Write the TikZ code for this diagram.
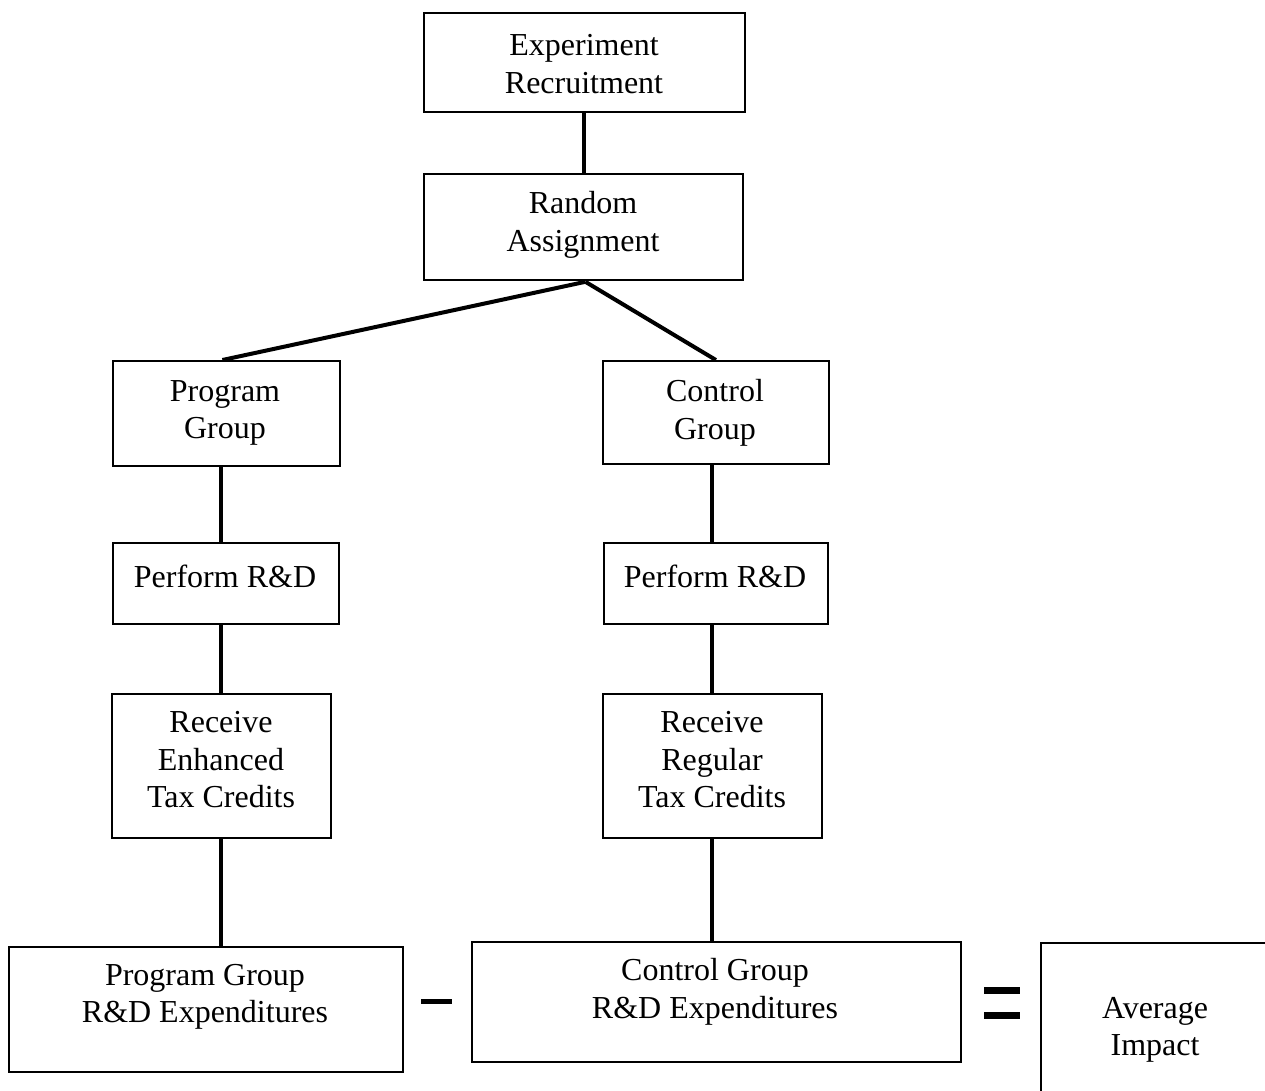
\documentclass[tikz,border=0pt]{standalone}
\usepackage{fontspec}
\setmainfont{Liberation Serif}
\usetikzlibrary{calc}
\tikzset{
  box/.style={draw, line width=1.8pt, inner sep=0pt, anchor=north west},
  txt/.style={align=center, inner sep=0pt, yshift=-3pt, font=\fontsize{32}{37.5}\selectfont},
  conn/.style={line width=4pt},
  bar/.style={fill=black, draw=none}
}
\begin{document}
\begin{tikzpicture}[x=1pt,y=-1pt]
\useasboundingbox (0,0) rectangle (1265,1091);
\clip (0,0) rectangle (1265,1091);
% boxes
\node[box, minimum width=321, minimum height=99] (exp) at (423,12) {};
\node[box, minimum width=319, minimum height=106] (ra) at (423,173) {};
\node[box, minimum width=227, minimum height=105] (pg) at (112,360) {};
\node[box, minimum width=226, minimum height=103] (cg) at (602,360) {};
\node[box, minimum width=226, minimum height=81] (pr1) at (112,542) {};
\node[box, minimum width=224, minimum height=81] (pr2) at (603,542) {};
\node[box, minimum width=219, minimum height=144] (rec1) at (111,693) {};
\node[box, minimum width=219, minimum height=144] (rec2) at (602,693) {};
\node[box, minimum width=394, minimum height=125] (pge) at (8,946) {};
\node[box, minimum width=489, minimum height=120] (cge) at (471,941) {};
\node[box, minimum width=300, minimum height=200] (avg) at (1040,942) {};
% texts
\node[txt] (texp) at (584,61) {Experiment\\Recruitment};
\node[txt] (tra) at (583,222) {Random\\Assignment};
\node[txt] (tpg) at (225,410) {Program\\Group};
\node[txt] (tcg) at (715,410) {Control\\Group};
\node[txt] (tpr1) at (225,573) {Perform R\&D};
\node[txt] (tpr2) at (715,573) {Perform R\&D};
\node[txt] (trec1) at (221,757) {Receive\\Enhanced\\Tax Credits};
\node[txt] (trec2) at (712,757) {Receive\\Regular\\Tax Credits};
\node[txt] (tpge) at (205,994) {Program Group\\R\&D Expenditures};
\node[txt] (tcge) at (715,989) {Control Group\\R\&D Expenditures};
\node[txt] (tavg) at (1155,1027) {Average\\Impact};
% connectors
\draw[conn] (exp.south) -- (exp.south |- ra.north);
\coordinate (split) at ($(ra.south)+(2,1)$);
\draw[conn] (split) -- ($(pg.north)+(-4,0)$);
\draw[conn] (split) -- (cg.north);
\draw[conn] (rec1.north |- pg.south) -- (rec1.north |- pr1.north);
\draw[conn] (rec1.north |- pr1.south) -- (rec1.north);
\draw[conn] (rec1.south) -- (rec1.south |- pge.north);
\draw[conn] (rec2.north |- cg.south) -- (rec2.north |- pr2.north);
\draw[conn] (rec2.north |- pr2.south) -- (rec2.north);
\draw[conn] (rec2.south) -- (rec2.south |- cge.north);
% operators
\fill[bar] (421,998.5) rectangle (452,1003.5);
\fill[bar] (984,987) rectangle (1020,993.5);
\fill[bar] (984,1012) rectangle (1020,1019);
\end{tikzpicture}
\end{document}
